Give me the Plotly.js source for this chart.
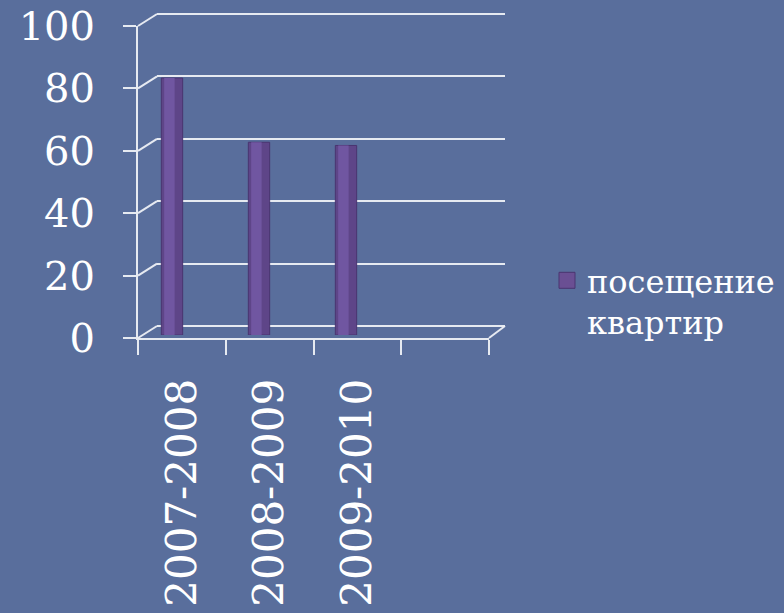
<!DOCTYPE html>
<html><head><meta charset="utf-8">
<script src="https://cdn.plot.ly/plotly-3.0.1.min.js"></script>
<style>html,body{margin:0;padding:0;background:#596e9c;}#chart{width:784px;height:613px;}</style>
</head><body><div id="chart"></div>
<script>
const categories = ['2007-2008', '2008-2009', '2009-2010'];
const values = [80, 60, 59];
const seriesName = 'посещение<br>квартир';
const yTicks = [0, 20, 40, 60, 80, 100];

const W = 784, H = 613;
const px = v => v / W, py = v => 1 - v / H;
const white = 'rgba(238,240,246,0.95)';
const font = 'DejaVu Serif, serif';
const idx = categories.map((c, i) => i);

// front axis pixel geometry (y=0 at 338, y=100 at 26)
const frontY = v => 338 - v * 3.12;

const traces = [
  {type: 'scatter', x: [], y: [], xaxis: 'x', yaxis: 'y', showlegend: false, hoverinfo: 'skip'},
  {type: 'bar', x: idx, y: values, xaxis: 'x2', yaxis: 'y2', width: 0.245, showlegend: false,
   marker: {color: '#5e4588', line: {color: '#4a3470', width: 1}}, hoverinfo: 'y'},
  {type: 'bar', x: idx.map(i => i - 0.03), y: values, xaxis: 'x2', yaxis: 'y2', width: 0.12, showlegend: false,
   marker: {color: '#7056a1', line: {width: 0}}, hoverinfo: 'skip'},
  {type: 'scatter', x: [], y: [], xaxis: 'x3', yaxis: 'y3', showlegend: false, hoverinfo: 'skip'},
  {type: 'scatter', mode: 'markers', x: [null], y: [null], xaxis: 'x2', yaxis: 'y2', name: seriesName,
   marker: {symbol: 'square', size: 16, color: '#6a4f93', line: {color: '#4a3470', width: 1}}}
];

const shapes = [];
yTicks.forEach(v => {
  shapes.push({type: 'line', xref: 'paper', yref: 'paper',
    x0: px(138), x1: px(157), y0: py(frontY(v)), y1: py(frontY(v) - 12), line: {color: white, width: 2}});
});
shapes.push({type: 'line', xref: 'paper', yref: 'paper',
  x0: px(489), x1: px(505), y0: py(frontY(0)), y1: py(frontY(0) - 12), line: {color: white, width: 2}});

const layout = {
  width: W, height: H,
  margin: {l: 0, r: 0, t: 0, b: 0},
  paper_bgcolor: '#596e9c', plot_bgcolor: 'rgba(0,0,0,0)',
  barmode: 'overlay',
  showlegend: true,
  legend: {x: px(547), y: py(253), xanchor: 'left', yanchor: 'top', valign: 'top',
    font: {family: font, size: 32, color: '#ffffff'}, bgcolor: 'rgba(0,0,0,0)'},
  xaxis: {domain: [px(157), px(505)], range: [0, 1], showgrid: false, zeroline: false,
    showticklabels: false, showline: false, ticks: '', anchor: 'y'},
  yaxis: {domain: [py(327.56), py(12.44)], range: [-0.5, 100.5], tickvals: yTicks, showgrid: true,
    gridcolor: white, gridwidth: 2, zeroline: false, showticklabels: false, ticks: '', anchor: 'x'},
  xaxis2: {domain: [px(128.5), px(476.5)], range: [-0.5, 3.5], visible: false, anchor: 'y2'},
  yaxis2: {domain: [py(335), py(13.75)], range: [0, 100], visible: false, anchor: 'x2'},
  xaxis3: {domain: [px(138), px(489)], range: [-0.5, 3.5], anchor: 'y3',
    tickvals: idx, ticktext: categories, ticks: '', tickangle: -90,
    tickfont: {family: font, size: 42, color: '#ffffff'}, ticklabelstandoff: 22,
    showline: true, linecolor: white, linewidth: 2, showgrid: false, zeroline: false,
    minor: {tickvals: [-0.5, 0.5, 1.5, 2.5, 3.5], ticks: 'outside', ticklen: 15, tickwidth: 2, tickcolor: white, showgrid: false}},
  yaxis3: {domain: [py(338), py(26)], range: [0, 100], anchor: 'x3', tickvals: yTicks,
    ticks: 'outside', ticklen: 13, tickwidth: 2, tickcolor: white,
    tickfont: {family: font, size: 40, color: '#ffffff'}, ticklabelstandoff: 20,
    showline: true, linecolor: white, linewidth: 2, showgrid: false, zeroline: false},
  shapes: shapes
};

Plotly.newPlot('chart', traces, layout, {displayModeBar: false, staticPlot: true});
</script></body></html>
